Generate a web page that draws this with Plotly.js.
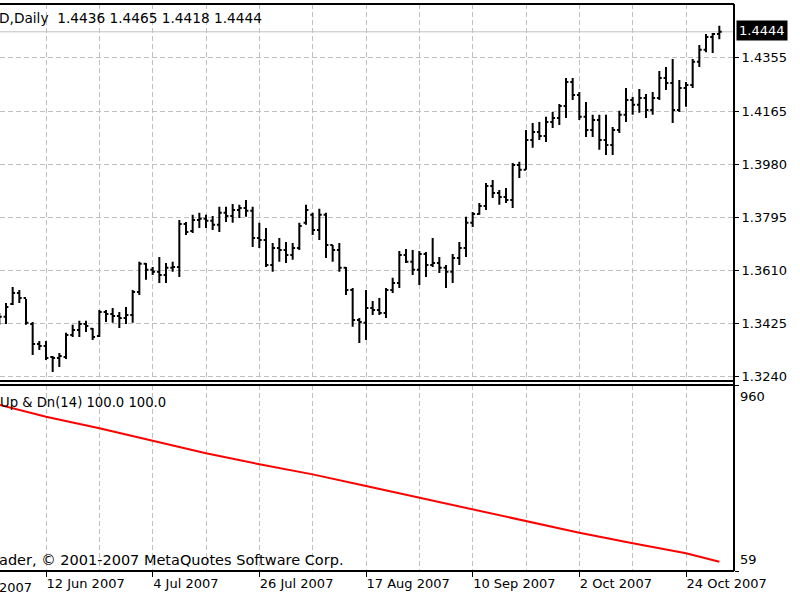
<!DOCTYPE html>
<html>
<head>
<meta charset="utf-8">
<script src="https://cdn.plot.ly/plotly-3.0.1.min.js"></script>
<style>
  html, body { margin: 0; padding: 0; background: #fff; }
  #chart { width: 800px; height: 600px; }
</style>
</head>
<body>
<div id="chart"></div>
<script>
// ---- data (EURUSD, Daily) ----
const dates = [
  '2007-06-01','2007-06-04','2007-06-05','2007-06-06','2007-06-07','2007-06-08',
  '2007-06-11','2007-06-12','2007-06-13','2007-06-14','2007-06-15',
  '2007-06-18','2007-06-19','2007-06-20','2007-06-21','2007-06-22',
  '2007-06-25','2007-06-26','2007-06-27','2007-06-28','2007-06-29',
  '2007-07-02','2007-07-03','2007-07-04','2007-07-05','2007-07-06',
  '2007-07-09','2007-07-10','2007-07-11','2007-07-12','2007-07-13',
  '2007-07-16','2007-07-17','2007-07-18','2007-07-19','2007-07-20',
  '2007-07-23','2007-07-24','2007-07-25','2007-07-26','2007-07-27',
  '2007-07-30','2007-07-31','2007-08-01','2007-08-02','2007-08-03',
  '2007-08-06','2007-08-07','2007-08-08','2007-08-09','2007-08-10',
  '2007-08-13','2007-08-14','2007-08-15','2007-08-16','2007-08-17',
  '2007-08-20','2007-08-21','2007-08-22','2007-08-23','2007-08-24',
  '2007-08-27','2007-08-28','2007-08-29','2007-08-30','2007-08-31',
  '2007-09-03','2007-09-04','2007-09-05','2007-09-06','2007-09-07',
  '2007-09-10','2007-09-11','2007-09-12','2007-09-13','2007-09-14',
  '2007-09-17','2007-09-18','2007-09-19','2007-09-20','2007-09-21',
  '2007-09-24','2007-09-25','2007-09-26','2007-09-27','2007-09-28',
  '2007-10-01','2007-10-02','2007-10-03','2007-10-04','2007-10-05',
  '2007-10-08','2007-10-09','2007-10-10','2007-10-11','2007-10-12',
  '2007-10-15','2007-10-16','2007-10-17','2007-10-18','2007-10-19',
  '2007-10-22','2007-10-23','2007-10-24','2007-10-25','2007-10-26',
  '2007-10-29','2007-10-30','2007-10-31'
];
const openP = [
  1.3435,1.3449,1.3494,1.3532,1.3515,1.3424,1.3354,1.3347,1.3309,1.3305,
  1.3309,1.3386,1.3403,1.3424,1.3407,1.3382,1.3466,1.3459,1.3452,1.3445,
  1.3455,1.3536,1.3634,1.3613,1.3606,1.3595,1.3620,1.3623,1.3773,1.3749,
  1.3787,1.3791,1.3784,1.3770,1.3812,1.3801,1.3822,1.3829,1.3819,1.3724,
  1.3717,1.3630,1.3689,1.3682,1.3665,1.3689,1.3777,1.3805,1.3752,1.3805,
  1.3700,1.3682,1.3620,1.3543,1.3438,1.3428,1.3480,1.3473,1.3462,1.3543,
  1.3567,1.3665,1.3641,1.3613,1.3668,1.3630,1.3637,1.3620,1.3606,1.3654,
  1.3689,1.3777,1.3808,1.3836,1.3906,1.3881,1.3867,1.3857,1.3979,1.3962,
  1.4066,1.4094,1.4080,1.4129,1.4143,1.4185,1.4269,1.4223,1.4147,1.4101,
  1.4136,1.4066,1.4049,1.4101,1.4154,1.4206,1.4189,1.4213,1.4171,1.4213,
  1.4283,1.4265,1.4171,1.4248,1.4258,1.4339,1.4381,1.4426,1.4436
];
const highP = [
  1.3462,1.3497,1.3553,1.3543,1.3511,1.3431,1.3365,1.3365,1.3312,1.3323,
  1.3393,1.3421,1.3435,1.3435,1.3410,1.3473,1.3473,1.3480,1.3466,1.3483,
  1.3543,1.3641,1.3637,1.3623,1.3658,1.3637,1.3641,1.3787,1.3780,1.3805,
  1.3812,1.3805,1.3801,1.3833,1.3833,1.3843,1.3840,1.3857,1.3833,1.3777,
  1.3759,1.3707,1.3724,1.3710,1.3707,1.3777,1.3840,1.3812,1.3826,1.3812,
  1.3700,1.3707,1.3623,1.3550,1.3445,1.3543,1.3504,1.3515,1.3550,1.3585,
  1.3679,1.3686,1.3682,1.3679,1.3675,1.3724,1.3658,1.3630,1.3668,1.3710,
  1.3798,1.3815,1.3846,1.3916,1.3927,1.3892,1.3899,1.3986,1.3990,1.4101,
  1.4126,1.4129,1.4147,1.4164,1.4192,1.4283,1.4283,1.4234,1.4199,1.4154,
  1.4154,1.4154,1.4112,1.4168,1.4248,1.4216,1.4244,1.4227,1.4234,1.4307,
  1.4321,1.4349,1.4276,1.4269,1.4349,1.4398,1.4436,1.4440,1.4465
];
const lowP = [
  1.3421,1.3424,1.3490,1.3497,1.3421,1.3316,1.3333,1.3298,1.3256,1.3274,
  1.3302,1.3379,1.3379,1.3396,1.3368,1.3379,1.3431,1.3428,1.3410,1.3424,
  1.3428,1.3525,1.3578,1.3595,1.3567,1.3567,1.3606,1.3588,1.3735,1.3742,
  1.3759,1.3759,1.3752,1.3745,1.3780,1.3777,1.3794,1.3798,1.3693,1.3689,
  1.3623,1.3606,1.3641,1.3637,1.3648,1.3682,1.3770,1.3735,1.3717,1.3654,
  1.3641,1.3606,1.3525,1.3414,1.3358,1.3368,1.3455,1.3455,1.3445,1.3532,
  1.3550,1.3637,1.3595,1.3560,1.3588,1.3623,1.3602,1.3550,1.3567,1.3630,
  1.3658,1.3763,1.3805,1.3822,1.3864,1.3840,1.3846,1.3829,1.3934,1.3962,
  1.4039,1.4066,1.4059,1.4108,1.4119,1.4143,1.4206,1.4136,1.4077,1.4077,
  1.4032,1.4014,1.4014,1.4091,1.4129,1.4154,1.4161,1.4143,1.4154,1.4206,
  1.4241,1.4126,1.4164,1.4182,1.4248,1.4321,1.4373,1.4370,1.4418
];
const closeP = [
  1.3449,1.3483,1.3532,1.3515,1.3428,1.3354,1.3347,1.3305,1.3305,1.3312,
  1.3386,1.3403,1.3424,1.3417,1.3379,1.3466,1.3459,1.3452,1.3445,1.3455,
  1.3536,1.3634,1.3613,1.3606,1.3595,1.3620,1.3623,1.3773,1.3745,1.3787,
  1.3791,1.3784,1.3770,1.3812,1.3801,1.3822,1.3829,1.3819,1.3724,1.3717,
  1.3630,1.3689,1.3682,1.3665,1.3689,1.3766,1.3822,1.3752,1.3805,1.3700,
  1.3682,1.3620,1.3543,1.3438,1.3431,1.3480,1.3473,1.3462,1.3543,1.3567,
  1.3665,1.3641,1.3613,1.3668,1.3630,1.3637,1.3620,1.3606,1.3654,1.3689,
  1.3777,1.3808,1.3836,1.3906,1.3881,1.3867,1.3857,1.3979,1.3962,1.4066,
  1.4094,1.4080,1.4129,1.4143,1.4185,1.4269,1.4223,1.4147,1.4101,1.4136,
  1.4066,1.4049,1.4101,1.4154,1.4206,1.4189,1.4213,1.4171,1.4213,1.4283,
  1.4265,1.4171,1.4248,1.4258,1.4339,1.4381,1.4426,1.4436,1.4444
];

// indicator "Up & Dn(14)" read at sample dates
const updnDates  = ['2007-06-01','2007-06-12','2007-06-22','2007-07-04','2007-07-16','2007-07-26','2007-08-07','2007-08-17','2007-08-29','2007-09-10','2007-09-20','2007-10-02','2007-10-12','2007-10-24','2007-10-31'];
const updnValues = [864, 806, 750, 689, 629, 576, 527, 471, 414, 358, 298, 244, 193, 145, 104];

const tickDates  = ['2007-06-12','2007-07-04','2007-07-26','2007-08-17','2007-09-10','2007-10-02','2007-10-24'];
const tickLabels = ['12 Jun 2007','4 Jul 2007','26 Jul 2007','17 Aug 2007','10 Sep 2007','2 Oct 2007','24 Oct 2007'];
const gridDates  = ['2007-06-12','2007-06-22','2007-07-04','2007-07-16','2007-07-26','2007-08-07','2007-08-17','2007-08-29','2007-09-10','2007-09-20','2007-10-02','2007-10-12','2007-10-24'];
const priceTicks = [1.3240, 1.3425, 1.3610, 1.3795, 1.3980, 1.4165, 1.4355];
const indTicks   = [59, 960];
const lastPrice  = 1.4444;
const headerText = 'D,Daily  1.4436 1.4465 1.4418 1.4444';
const indText    = 'Up & Dn(14) 100.0 100.0';
const copyText   = 'ader, \u00A9 2001-2007 MetaQuotes Software Corp.';
const leftDate   = '2007';

// ---- build ----
const pos = d => dates.indexOf(d);
const xs = dates.map((d, i) => i);
const FONT = 'DejaVu Sans, Verdana, sans-serif';

const traces = [
  {
    type: 'ohlc', x: xs, open: openP, high: highP, low: lowP, close: closeP,
    xaxis: 'x', yaxis: 'y',
    increasing: { line: { color: '#000000', width: 2 } },
    decreasing: { line: { color: '#000000', width: 2 } },
    tickwidth: 0.36, hoverinfo: 'skip', showlegend: false
  },
  {
    type: 'scatter', mode: 'lines', x: updnDates.map(pos), y: updnValues,
    xaxis: 'x', yaxis: 'y2',
    line: { color: '#ff0000', width: 2 }, hoverinfo: 'skip', showlegend: false
  }
];

const yTopPx = 4, yBotPx = 571, sepTop = 381, sepBot = 385;
const H = yBotPx - yTopPx;
const topDomain = [(yBotPx - sepTop) / H, 1];
const botDomain = [0, (yBotPx - sepBot) / H];

const gridColor = '#c0c0c0';
const layout = {
  width: 800, height: 600,
  margin: { l: 0, r: 66, t: yTopPx, b: 600 - yBotPx, pad: 0 },
  paper_bgcolor: '#ffffff', plot_bgcolor: '#ffffff',
  font: { family: FONT, size: 13, color: '#000000' },
  showlegend: false,
  xaxis: {
    type: 'linear', range: [0.1, 110.2], anchor: 'y2',
    rangeslider: { visible: false },
    tickmode: 'array', tickvals: tickDates.map(pos), ticktext: tickLabels,
    ticks: 'outside', ticklen: 5, tickcolor: '#000000', tickwidth: 1,
    ticklabelposition: 'outside right',
    tickfont: { family: FONT, size: 13, color: '#000000' },
    showgrid: false, zeroline: false, showline: false,
    minor: { tickmode: 'array', tickvals: gridDates.map(pos), showgrid: true, gridcolor: gridColor, griddash: '5px,3px', gridwidth: 1, ticks: '' }
  },
  yaxis: {
    domain: topDomain, side: 'right', anchor: 'x',
    range: [1.3225, 1.4541],
    tickmode: 'array', tickvals: priceTicks, ticktext: priceTicks.map(v => v.toFixed(4)),
    ticks: 'outside', ticklen: 4, tickcolor: '#000000',
    tickfont: { family: FONT, size: 13, color: '#000000' },
    showgrid: true, gridcolor: gridColor, griddash: '5px,3px', gridwidth: 1,
    zeroline: false, showline: false
  },
  yaxis2: {
    domain: botDomain, side: 'right', anchor: 'x',
    range: [indTicks[0], indTicks[1]],
    tickmode: 'array', tickvals: indTicks, showticklabels: false,
    ticks: 'outside', ticklen: 4, tickcolor: '#000000',
    showgrid: false, zeroline: false, showline: false
  },
  shapes: [
    { type: 'line', xref: 'paper', yref: 'y', x0: 0, x1: 1, y0: lastPrice, y1: lastPrice, line: { color: '#c0c0c0', width: 1 }, layer: 'below' },
    { type: 'line', xref: 'paper', yref: 'paper', x0: 0, x1: 1, y0: 1, y1: 1, line: { color: '#000000', width: 2 } },
    { type: 'line', xref: 'paper', yref: 'paper', x0: 1, x1: 1, y0: 0, y1: 1, line: { color: '#000000', width: 2 } },
    { type: 'line', xref: 'paper', yref: 'paper', x0: 0, x1: 1, y0: topDomain[0], y1: topDomain[0], line: { color: '#000000', width: 2 } },
    { type: 'line', xref: 'paper', yref: 'paper', x0: 0, x1: 1, y0: botDomain[1], y1: botDomain[1], line: { color: '#000000', width: 2 } },
    { type: 'line', xref: 'paper', yref: 'paper', x0: 0, x1: 1, y0: 0, y1: 0, line: { color: '#000000', width: 2 } }
  ],
  annotations: [
    { xref: 'paper', yref: 'paper', x: 0, y: 1, xanchor: 'left', yanchor: 'middle', yshift: -14, xshift: -3,
      text: headerText, showarrow: false, font: { family: FONT, size: 13.7, color: '#000000' } },
    { xref: 'paper', yref: 'paper', x: 0, y: botDomain[1], xanchor: 'left', yanchor: 'middle', yshift: -17, xshift: -2,
      text: indText, showarrow: false, font: { family: FONT, size: 13.2, color: '#000000' } },
    { xref: 'paper', yref: 'paper', x: 0, y: 0, xanchor: 'left', yanchor: 'middle', yshift: 11, xshift: -3,
      text: copyText, showarrow: false, font: { family: FONT, size: 14.5, color: '#000000' } },
    { xref: 'paper', yref: 'paper', x: 0, y: 0, xanchor: 'left', yanchor: 'middle', yshift: -16, xshift: -3,
      text: leftDate, showarrow: false, font: { family: FONT, size: 13, color: '#000000' } },
    { xref: 'paper', yref: 'y', x: 1, y: lastPrice, xanchor: 'left', yanchor: 'middle', xshift: 2, yshift: 1,
      text: lastPrice.toFixed(4), showarrow: false, bgcolor: '#000000', borderpad: 2,
      font: { family: FONT, size: 13, color: '#ffffff' } },
    { xref: 'paper', yref: 'y2', x: 1, y: indTicks[1], xanchor: 'left', yanchor: 'top', xshift: 4, yshift: -2,
      text: String(indTicks[1]), showarrow: false, font: { family: FONT, size: 13, color: '#000000' } },
    { xref: 'paper', yref: 'y2', x: 1, y: indTicks[0], xanchor: 'left', yanchor: 'bottom', xshift: 4, yshift: 2,
      text: String(indTicks[0]), showarrow: false, font: { family: FONT, size: 13, color: '#000000' } }
  ]
};

Plotly.newPlot('chart', traces, layout, { staticPlot: true, displayModeBar: false });
</script>
</body>
</html>
